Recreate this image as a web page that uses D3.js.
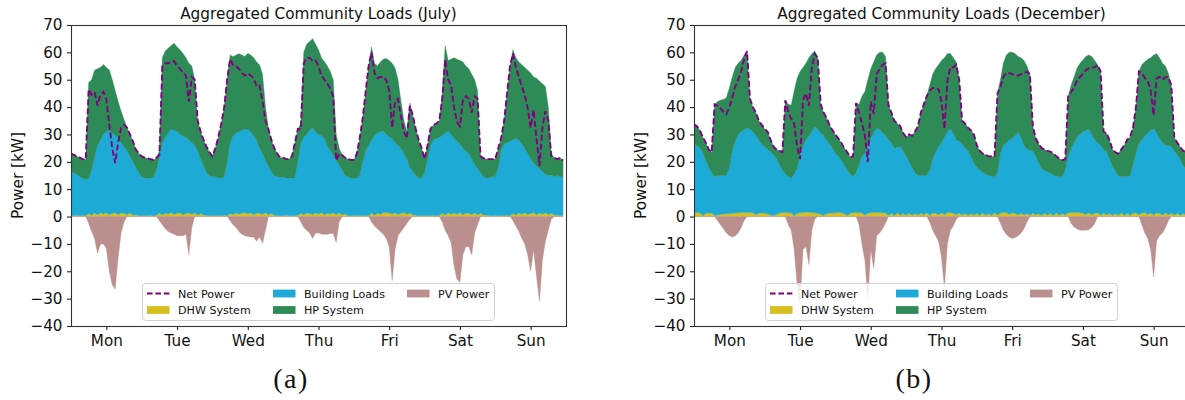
<!DOCTYPE html>
<html>
<head>
<meta charset="utf-8">
<script src="https://cdn.jsdelivr.net/npm/d3@7"></script>
<style>
  html, body { margin: 0; padding: 0; background: #ffffff; }
  svg { display: block; font-family: "DejaVu Sans", sans-serif; }
</style>
</head>
<body>
<svg id="chart" width="1185" height="400"></svg>
<script>
// ---- tick labels ----
const dayLabels = ["Mon", "Tue", "Wed", "Thu", "Fri", "Sat", "Sun"];
const dayTicks = [12, 36, 60, 84, 108, 132, 156];
const powerTicks = [-40, -30, -20, -10, 0, 10, 20, 30, 40, 50, 60, 70];

// ---- July, hourly values in kW (one row per day) ----
const julyDhw = [
  0.4,0.3,0.5,0.3,0.4,0.3,1.2,0.5,1.3,0.7,1.4,0.8,1.5,0.6,1.2,1.4,0.7,1.3,1.2,0.6,1.4,0.5,0.7,0.3,
  0.3,0.4,0.3,0.5,0.3,0.4,1.3,0.6,1.2,0.9,1.5,0.7,1.3,1.4,0.6,1.2,1.3,0.8,1.4,0.5,1.1,0.6,0.4,0.3,
  0.4,0.3,0.4,0.3,0.5,0.3,1.1,0.7,1.4,0.8,1.3,1.5,0.9,1.4,0.6,1.3,1.2,0.7,1.5,0.6,1.2,0.5,0.4,0.3,
  0.3,0.5,0.3,0.4,0.3,0.5,1.2,0.6,1.3,1.1,0.7,1.4,0.8,1.5,0.6,1.2,0.9,1.3,0.7,1.4,0.6,1.0,0.4,0.3,
  0.4,0.3,0.5,0.3,0.4,0.3,1.3,0.5,1.2,0.8,1.5,1.5,1.3,0.9,1.4,0.7,1.2,1.5,0.8,1.3,0.6,0.5,0.3,0.4,
  0.3,0.4,0.3,0.5,0.3,0.4,1.2,0.6,1.4,0.9,1.3,0.8,1.5,0.6,1.3,1.2,0.7,1.4,0.6,1.2,0.5,0.6,0.4,0.3,
  0.4,0.3,0.4,0.3,0.5,0.3,1.1,0.5,1.3,0.8,1.4,0.7,1.2,1.5,0.6,1.3,0.8,1.4,0.7,1.3,0.6,0.5,0.4,0.3
];
const julyBuilding = [
  16.1,15.7,15.0,14.2,13.6,13.2,12.8,16.5,20.7,25.3,26.6,29.2,29.5,31.0,29.3,28.1,28.3,25.7,24.3,23.4,20.6,19.5,17.3,15.7,
  14.2,13.6,13.7,13.5,14.2,16.6,20.7,26.4,27.8,29.6,30.5,30.8,29.7,28.6,28.9,27.8,26.7,26.2,24.6,23.5,19.9,17.9,15.6,14.7,
  14.1,14.2,13.6,13.7,14.0,19.7,25.9,28.8,29.1,30.2,30.2,30.5,31.1,29.6,28.9,26.7,23.8,22.3,19.0,17.9,15.2,14.5,14.1,14.0,
  14.2,13.5,13.7,13.6,13.7,19.5,25.8,28.4,28.7,30.4,31.8,29.6,29.2,28.0,27.9,24.8,23.1,21.2,19.8,17.6,16.4,14.0,14.1,13.7,
  13.6,13.7,14.5,19.7,23.6,25.7,26.7,29.0,29.3,30.2,29.8,28.5,27.7,27.7,25.6,25.3,23.8,21.5,20.2,16.7,15.8,14.5,13.7,13.6,
  15.7,20.6,25.7,27.5,28.2,28.6,28.3,29.9,29.9,29.1,27.3,26.7,25.0,24.4,22.7,21.8,20.3,17.6,17.0,14.8,14.0,13.4,13.8,14.3,
  14.2,17.7,23.6,26.2,26.5,27.2,26.9,28.1,26.7,25.7,23.6,22.3,19.8,18.0,17.9,16.2,15.7,14.1,14.3,13.9,13.9,14.5,14.1,14.2
];
const julyHp = [
  6.6,6.5,6.5,7.0,7.0,7.3,35.0,33.0,31.5,28.0,26.5,25.6,23.5,22.0,19.5,16.5,13.0,11.5,10.0,8.5,8.0,7.5,6.5,7.0,
  7.5,7.5,7.3,7.0,6.2,4.5,2.0,31.0,31.5,31.0,30.5,31.8,31.0,31.0,30.1,29.0,28.0,28.0,24.0,11.0,10.0,9.5,9.5,8.5,
  7.5,10.5,15.0,20.0,25.5,30.0,32.0,28.9,28.5,28.5,27.5,26.5,27.6,28.0,28.5,28.5,30.4,29.0,19.5,13.5,11.6,10.0,8.5,7.2,
  7.0,7.0,7.0,8.0,13.0,12.0,7.0,31.0,33.0,32.5,32.5,32.0,31.0,28.5,28.1,29.0,29.0,27.5,9.5,6.0,5.5,6.5,6.5,6.7,
  6.7,9.0,13.6,16.0,21.6,29.0,34.0,26.5,24.5,25.5,26.2,27.8,28.0,27.4,27.2,24.0,17.0,12.0,10.0,23.5,20.6,17.0,14.0,11.0,
  5.0,5.0,6.0,5.5,5.5,6.0,15.5,31.9,25.7,27.5,29.4,30.0,30.5,31.5,31.0,31.0,31.0,31.0,28.4,6.0,6.8,7.0,6.8,6.4,
  6.4,7.0,4.6,8.5,18.0,27.5,33.0,29.4,28.5,29.0,29.5,30.5,31.5,31.5,32.0,32.0,32.0,32.0,25.0,7.8,7.0,6.0,7.0,6.0
];
const julyPv = [
  0,0,0,0,0,0,-2.5,-5.5,-8,-13.4,-10,-10,-11.6,-20,-25,-26.5,-15,-6,-2,0,0,0,0,0,
  0,0,0,0,0,0,-1.5,-3,-4.5,-5.5,-6,-6.5,-7,-7,-7,-6.5,-14,-4,0,0,0,0,0,0,
  0,0,0,0,0,0,-1.5,-3,-4,-5.5,-6.5,-7,-7.3,-7.5,-7.5,-9,-7.5,-9.8,-5,0,0,0,0,0,
  0,0,0,0,0,0,-2,-4,-5,-6,-8,-6,-6,-6.5,-6.5,-6.5,-6.2,-6.2,-9.5,-2,0,0,0,0,
  0,0,0,0,0,0,-2,-3.5,-4.5,-5.5,-6.5,-8,-11,-23.5,-12,-7,-5.5,-4,-2.5,-1,0,0,0,0,
  0,0,0,0,0,0,-2,-5,-7,-9.5,-18,-23,-24,-14,-11,-11,-14,-6,-3,0,0,0,0,0,
  0,0,0,0,0,0,-1.5,-3.5,-5.5,-8,-10,-14,-20,-12,-22,-31,-16,-9,-5,-1,0,0,0,0
];

// ---- December, hourly values in kW (one row per day) ----
const decDhw = [
  1.5,1.5,1.4,0.3,1.2,1.3,1.2,0.4,0.6,0.8,0.9,1.0,1.1,1.2,1.3,1.4,1.5,1.5,1.5,1.5,1.4,0.6,1.3,1.3,
  1.2,1.0,0.6,0.3,0.8,1.2,1.5,1.5,1.4,1.4,0.3,1.2,1.4,1.5,1.6,1.6,1.5,1.4,1.2,0.8,0.4,1.0,1.3,1.3,
  1.4,1.5,1.5,1.0,0.4,1.1,1.4,1.5,1.5,1.3,0.5,1.2,1.4,1.5,1.5,1.5,1.4,1.3,0.5,1.2,0.4,1.3,0.5,1.2,
  0.5,1.3,0.4,1.2,0.5,1.3,0.6,1.4,0.5,1.2,1.3,0.6,1.4,0.7,1.5,1.5,1.2,0.6,1.3,0.5,1.2,0.4,1.1,0.5,
  1.2,0.4,1.3,0.5,1.1,0.4,1.4,0.6,1.3,1.5,1.5,0.8,1.4,1.2,0.6,1.3,0.5,1.2,0.4,1.3,0.6,1.1,0.4,1.2,
  0.5,1.2,0.4,1.3,0.5,1.1,0.6,1.4,1.5,1.5,1.5,1.4,1.3,0.7,1.4,0.6,1.2,1.4,0.5,1.3,0.6,1.2,0.4,1.1,
  0.5,1.3,0.4,1.2,0.5,1.2,1.4,0.6,1.3,1.5,0.7,1.4,0.6,1.3,1.2,0.5,1.4,0.6,1.3,0.5,1.2,0.4,1.1,0.5
];
const decBuilding = [
  25.2,24.5,23.6,23.2,19.3,16.7,14.8,14.1,14.4,14.2,14.1,14.0,16.9,22.8,26.2,28.6,29.5,30.3,30.9,30.5,29.6,29.2,26.7,25.2,
  24.3,23.5,23.1,22.2,20.4,17.8,15.5,14.0,13.1,12.6,15.2,16.4,20.6,24.5,26.4,27.9,29.5,31.4,30.8,29.6,29.1,27.0,25.2,23.7,
  21.6,20.5,19.0,17.8,16.6,14.4,13.1,14.5,17.5,20.7,22.5,24.8,27.1,29.0,30.7,30.5,29.1,28.2,27.5,25.8,24.6,24.0,25.1,22.8,
  21.5,18.7,17.6,14.8,14.5,13.7,14.4,13.6,16.5,19.8,22.2,24.9,25.6,28.3,29.5,30.5,29.3,27.4,26.2,26.0,23.8,23.6,20.9,19.0,
  16.8,16.6,14.7,15.0,13.9,14.3,13.1,15.4,21.7,24.5,25.5,27.2,27.1,28.3,30.4,27.7,25.5,23.3,23.9,22.7,21.4,18.4,17.2,15.6,
  15.8,14.6,14.8,13.3,14.0,13.4,16.4,20.6,23.5,25.5,27.5,28.6,29.7,30.8,30.6,29.4,26.8,25.6,25.5,23.2,23.1,19.8,18.1,15.4,
  14.5,13.2,14.1,13.3,14.5,17.8,21.6,26.1,26.7,28.0,29.7,30.1,31.6,29.2,27.3,26.5,24.6,25.4,24.2,23.5,21.3,20.6,17.4,17.0
];
const decHp = [
  7.0,7.0,6.5,5.5,6.5,6.5,7.5,26.5,27.0,27.5,27.8,28.4,29.0,27.0,27.0,26.0,26.0,27.2,28.1,11.0,9.0,8.2,7.0,7.0,
  6.5,6.5,4.3,3.0,3.3,5.0,6.5,27.0,26.5,26.7,30.5,32.9,31.0,28.5,28.0,28.5,28.5,27.7,26.0,10.6,8.5,8.0,7.0,6.5,
  7.0,6.5,6.5,6.2,6.5,6.3,7.5,25.5,22.0,22.0,22.6,24.0,25.5,26.0,26.8,28.0,29.5,29.0,12.7,11.0,10.0,8.7,7.4,6.5,
  7.0,10.0,11.5,15.0,18.0,23.0,26.0,29.0,31.0,31.0,30.5,30.0,30.0,29.0,28.5,27.6,27.5,28.5,22.5,8.5,9.0,8.5,9.5,10.5,
  8.0,7.0,7.0,7.0,7.0,7.3,7.3,29.0,27.0,30.0,32.0,32.0,31.5,30.0,27.5,29.0,31.0,30.5,27.7,9.0,6.5,7.0,7.4,7.7,
  7.7,7.9,7.8,7.4,6.7,6.1,4.0,22.0,23.0,24.0,25.2,26.0,26.2,27.0,27.0,28.5,29.0,28.4,27.0,6.5,6.8,7.0,6.0,7.0,
  8.0,10.0,11.5,13.5,14.0,13.5,17.0,26.3,27.5,27.1,27.1,26.5,26.8,29.0,29.5,29.0,29.0,26.3,22.5,5.0,4.5,4.5,5.5,6.2
];
const decPv = [
  0,0,0,0,0,0,0,0,-1.5,-3,-4.5,-6,-7,-7.5,-7,-6,-4,-1.5,0,0,0,0,0,0,
  0,0,0,0,0,0,0,0,-3,-5,-12,-25,-32,-12,-11,-17.5,-5,-1,0,0,0,0,0,0,
  0,0,0,0,0,0,0,0,-3,-10,-16,-30,-12,-19,-7,-6,-4.5,-2.5,0,0,0,0,0,0,
  0,0,0,0,0,0,0,0,-2,-5,-7,-9,-15,-26,-10,-5,-3.5,-1,0,0,0,0,0,0,
  0,0,0,0,0,0,0,0,-2.5,-5,-6.5,-7.5,-8,-7.7,-7,-6,-4.5,-2,0,0,0,0,0,0,
  0,0,0,0,0,0,0,0,-2.5,-3.8,-4.5,-5,-5,-5,-4.8,-4,-2.5,0,0,0,0,0,0,0,
  0,0,0,0,0,0,0,0,-3,-6,-8,-12,-22,-9,-7,-6,-4,-1.5,0,0,0,0,0,0
];

// ---- styling ----
const colors = {
  dhw: "#d6bf1f",
  building: "#1eaad6",
  hp: "#2e8b57",
  pv: "#bc8f8f",
  net: "#800080"
};
const legendItems = [
  { key: "net", label: "Net Power", col: 0, row: 0 },
  { key: "dhw", label: "DHW System", col: 0, row: 1 },
  { key: "building", label: "Building Loads", col: 1, row: 0 },
  { key: "hp", label: "HP System", col: 1, row: 1 },
  { key: "pv", label: "PV Power", col: 2, row: 0 }
];

const panels = [
  { id: "july", left: 71, title: "Aggregated Community Loads (July)", tag: "(a)", tagX: 291,
    dhw: julyDhw, building: julyBuilding, hp: julyHp, pv: julyPv },
  { id: "dec", left: 694, title: "Aggregated Community Loads (December)", tag: "(b)", tagX: 914,
    dhw: decDhw, building: decBuilding, hp: decHp, pv: decPv }
];

const PLOT_W = 495, PLOT_TOP = 25, PLOT_BOTTOM = 326;
const svg = d3.select("#chart");
const defs = svg.append("defs");

panels.forEach(p => {
  const x = d3.scaleLinear().domain([0, 168]).range([p.left, p.left + PLOT_W]);
  const y = d3.scaleLinear().domain([-40, 70]).range([PLOT_BOTTOM, PLOT_TOP]);

  const rows = p.dhw.map((v, i) => ({
    h: i, dhw: v, building: p.building[i], hp: p.hp[i], pv: p.pv[i]
  }));
  // net power = all loads plus (negative) PV generation
  rows.forEach(r => { r.net = r.dhw + r.building + r.hp + r.pv; });

  const series = d3.stack().keys(["dhw", "building", "hp"])(rows);

  defs.append("clipPath").attr("id", "clip-" + p.id)
    .append("rect")
    .attr("x", p.left).attr("y", PLOT_TOP)
    .attr("width", PLOT_W).attr("height", PLOT_BOTTOM - PLOT_TOP);

  const g = svg.append("g");
  const plot = g.append("g").attr("clip-path", `url(#clip-${p.id})`);

  const stackArea = d3.area()
    .x(d => x(d.data.h))
    .y0(d => y(d[0]))
    .y1(d => y(d[1]));

  plot.selectAll("path.stack")
    .data(series)
    .join("path")
    .attr("class", "stack")
    .attr("fill", s => colors[s.key])
    .attr("stroke", s => colors[s.key])
    .attr("stroke-width", 0.4)
    .attr("d", stackArea);

  plot.append("path")
    .datum(rows)
    .attr("fill", colors.pv)
    .attr("stroke", colors.pv)
    .attr("stroke-width", 0.4)
    .attr("d", d3.area().x(d => x(d.h)).y0(y(0)).y1(d => y(d.pv)));

  plot.append("path")
    .datum(rows)
    .attr("fill", "none")
    .attr("stroke", colors.net)
    .attr("stroke-width", 1.9)
    .attr("stroke-dasharray", "6,2.8")
    .attr("d", d3.line().x(d => x(d.h)).y(d => y(d.net)));

  // axes
  const yAxis = d3.axisLeft(y).tickValues(powerTicks).tickSize(4).tickPadding(4.5);
  const gy = g.append("g").attr("transform", `translate(${p.left},0)`).call(yAxis);
  const xAxis = d3.axisBottom(x).tickValues(dayTicks)
    .tickFormat((d, i) => dayLabels[i]).tickSize(4).tickPadding(5);
  const gx = g.append("g").attr("transform", `translate(0,${PLOT_BOTTOM})`).call(xAxis);
  [gx, gy].forEach(a => {
    a.select(".domain").remove();
    a.selectAll(".tick line").attr("stroke", "#222").attr("stroke-width", 1.1);
    a.selectAll(".tick text")
      .attr("fill", "#111")
      .style("font-family", "'DejaVu Sans', sans-serif")
      .style("font-size", "15.2px");
  });

  // frame
  g.append("rect")
    .attr("x", p.left + 0.5).attr("y", PLOT_TOP + 0.5)
    .attr("width", PLOT_W).attr("height", PLOT_BOTTOM - PLOT_TOP)
    .attr("fill", "none").attr("stroke", "#333").attr("stroke-width", 1.1);

  // title and axis label
  g.append("text")
    .attr("x", p.left + PLOT_W / 2).attr("y", 18.5)
    .attr("text-anchor", "middle")
    .style("font-size", "15.3px").attr("fill", "#111")
    .text(p.title);

  g.append("text")
    .attr("transform", `translate(${p.left - 48.5},${(PLOT_TOP + PLOT_BOTTOM) / 2}) rotate(-90)`)
    .attr("text-anchor", "middle")
    .style("font-size", "15.3px").attr("fill", "#111")
    .text("Power [kW]");

  // legend
  const lx = p.left + 71, ly = 283, lw = 352, lh = 37;
  const leg = g.append("g");
  leg.append("rect")
    .attr("x", lx + 0.5).attr("y", ly + 0.5).attr("width", lw).attr("height", lh)
    .attr("rx", 3).attr("ry", 3)
    .attr("fill", "#ffffff").attr("fill-opacity", 0.8)
    .attr("stroke", "#d0d0d0").attr("stroke-width", 1);
  const colX = [lx + 5, lx + 131, lx + 265];
  const rowY = [ly + 10.5, ly + 27];
  legendItems.forEach(it => {
    const hx = colX[it.col], cy = rowY[it.row];
    if (it.key === "net") {
      leg.append("line")
        .attr("x1", hx).attr("x2", hx + 22.5).attr("y1", cy).attr("y2", cy)
        .attr("stroke", colors.net).attr("stroke-width", 1.9)
        .attr("stroke-dasharray", "5.6,2.8");
    } else {
      leg.append("rect")
        .attr("x", hx).attr("y", cy - 3.9).attr("width", 22.5).attr("height", 7.8)
        .attr("fill", colors[it.key]);
    }
    leg.append("text")
      .attr("x", hx + 31).attr("y", cy + 4)
      .style("font-size", "11.1px").attr("fill", "#111")
      .text(it.label);
  });

  // sub-figure tag
  svg.append("text")
    .attr("x", p.tagX).attr("y", 388)
    .attr("text-anchor", "middle")
    .style("font-family", "'Liberation Serif', 'DejaVu Serif', serif")
    .style("font-size", "28px")
    .style("letter-spacing", "1.5px")
    .attr("fill", "#111")
    .text(p.tag);
});
</script>
</body>
</html>
